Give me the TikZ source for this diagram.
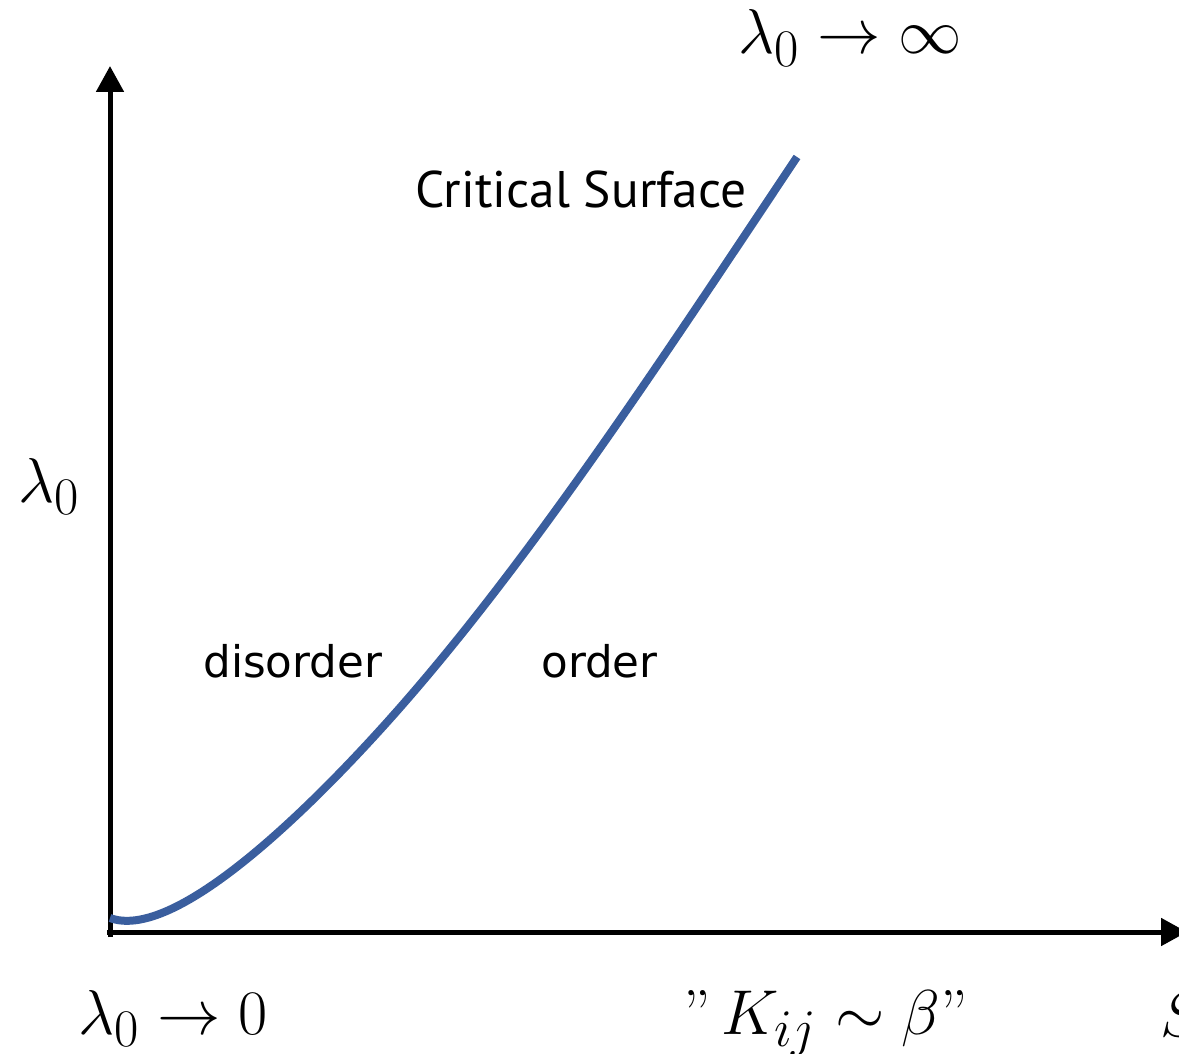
\documentclass[tikz,border=0pt]{standalone}
\usepackage{fontspec}
\usepackage{graphicx}
\usetikzlibrary{arrows.meta}
\newfontfamily\labelfont{DejaVu Sans}
\newfontfamily\titlefont{PT Sans}
\definecolor{curveblue}{HTML}{3A5E9E}
\newcommand{\bigmath}[1]{\scalebox{1.45}{#1}}
\begin{document}
\begin{tikzpicture}[x=0.02cm,y=-0.02cm,
  axis/.style={line width=0.1cm,black,-{Triangle[length=0.52cm,width=0.54cm]}},
  mathlbl/.style={inner sep=0pt,anchor=base west,font=\fontsize{24.88}{30}\selectfont},
  regionlbl/.style={inner sep=0pt,anchor=base west,font=\labelfont\fontsize{24.8}{30}\selectfont},
  titlelbl/.style={inner sep=0pt,anchor=base west,font=\titlefont\fontsize{29.3}{35}\selectfont},
  crit/.style={line width=0.16cm,curveblue}]
\useasboundingbox (0,0) rectangle (1179,1054);
% axes
\coordinate (ybot) at (110,937);
\coordinate (ytop) at (110,66);
\coordinate (xleft) at (107,932);
\coordinate (xright) at (1187,932);
\draw[axis] (ybot) -- (ytop);
\draw[axis] (xleft) -- (xright);
% critical curve
\coordinate (c0) at (110,918);
\coordinate (c1) at (380,730);
\coordinate (c2) at (797,157);
\draw[crit] (c0) .. controls (170,940) and (290,829) .. (c1)
                 .. controls (520,576) and (657,367) .. (c2);
% labels
\node[mathlbl] (top) at (738,54) {\bigmath{$\lambda_0 \to \infty$}};
\node[mathlbl] (ylab) at (18,502) {\bigmath{$\lambda_0$}};
\node[mathlbl] (low) at (78,1034) {\bigmath{$\lambda_0 \to 0$}};
\node[mathlbl] (kij) at (683,1034) {\bigmath{''$\,K_{ij} \sim \beta$''}};
\node[mathlbl] (slab) at (1160,1036) {\bigmath{$S$}};
\node[titlelbl] (cs) at (415,208) {Critical Surface};
\node[regionlbl] (dis) at (203,677) {disorder};
\node[regionlbl] (ord) at (541,677) {order};
\end{tikzpicture}
\end{document}
